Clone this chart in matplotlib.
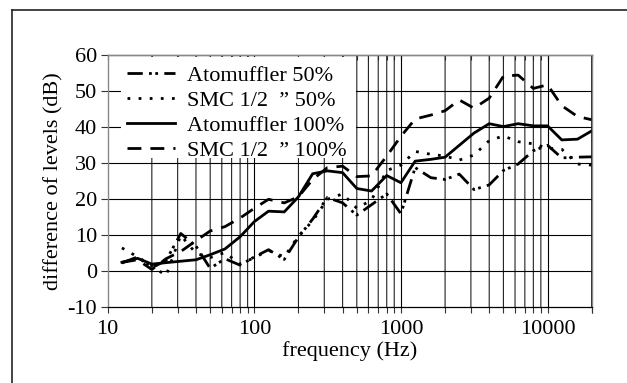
import matplotlib
matplotlib.use("Agg")
import matplotlib.pyplot as plt
from matplotlib.patches import Rectangle
from matplotlib.lines import Line2D
from matplotlib.ticker import FixedLocator, NullFormatter, NullLocator

plt.rcParams['font.family'] = ['Liberation Serif', 'DejaVu Serif']
plt.rcParams['lines.scale_dashes'] = False
plt.rcParams['axes.unicode_minus'] = False

freq = [12.5, 16, 20, 25, 31.5, 40, 50, 63, 80, 100, 125, 160, 200, 250, 315, 400,
        500, 630, 800, 1000, 1250, 1600, 2000, 2500, 3150, 4000, 5000, 6300, 8000,
        10000, 12500, 16000, 20000]

atom_50 = [2.3, 4.0, 1.0, 3.0, 10.5, 7.0, 0.8, 3.5, 1.7, 4.0, 6.0, 3.3, 9.5, 14.5, 20.5,
           19.0, 15.6, 18.5, 21.5, 16.0, 28.8, 26.0, 25.5, 27.0, 22.7, 24.0, 28.0, 29.8,
           33.5, 35.0, 31.5, 31.7, 31.8]
smc_50 = [6.5, 4.0, 1.5, -1.2, 10.0, 5.0, 3.8, 5.2, 2.0, 3.8, 5.8, 4.0, 9.8, 14.0, 20.0,
          21.5, 17.5, 19.8, 28.0, 29.5, 33.3, 32.5, 32.0, 30.9, 32.3, 36.3, 37.6, 36.0,
          35.4, 34.2, 33.9, 29.8, 29.5]
atom_100 = [2.5, 3.6, 2.0, 2.4, 2.8, 3.2, 4.6, 6.2, 9.6, 13.8, 16.7, 16.5, 20.7, 27.1, 27.9,
            27.4, 23.0, 22.3, 26.6, 24.6, 30.6, 31.1, 31.7, 35.0, 38.4, 41.0, 40.2, 41.0,
            40.4, 40.4, 36.5, 36.7, 39.0]
smc_100 = [2.5, 3.2, 0.5, 3.5, 5.5, 8.5, 11.2, 12.4, 14.8, 17.5, 20.0, 19.0, 20.7, 25.5,
           28.8, 29.2, 26.3, 26.5, 32.0, 37.5, 42.3, 43.4, 44.6, 47.6, 45.3, 48.1, 54.2,
           54.5, 50.8, 51.8, 46.0, 43.0, 42.1]

labels = ['Atomuffler 50%', 'SMC 1/2  \u201d 50%', 'Atomuffler 100%', 'SMC 1/2  \u201d 100%']

x_ticks = [10, 100, 1000, 10000]
x_ticklabels = ['10', '100', '1000', '10000']
y_ticks = [-10, 0, 10, 20, 30, 40, 50, 60]
grid_x = [m * d for d in (10, 100, 1000, 10000) for m in range(2, 10)] + [20000]
grid_x = [g for g in grid_x if g <= 20000]

W, H = 627, 383
fig = plt.figure(figsize=(W / 100, H / 100), dpi=100)
L, R, T, B = 107.7, 591.7, 55.3, 307.3
ax = fig.add_axes([L / W, 1 - B / H, (R - L) / W, (B - T) / H])
ax.set_xscale('log')
ax.set_xlim(10, 20000)
ax.set_ylim(-10, 60)

# grid
for g in grid_x:
    ax.axvline(g, color='#222222', lw=0.8, zorder=1, snap=False)
ax.axvline(100, color='black', lw=0.8, zorder=1)
ax.axvline(1000, color='black', lw=0.8, zorder=1)
ax.axvline(10000, color='black', lw=0.8, zorder=1)
for yv in y_ticks[1:-1]:
    ax.axhline(yv, color='black', lw=0.8, zorder=1)

# legend background
def px2ax(px, py):
    return (px - L) / (R - L), (B - py) / (B - T)
x0, y0 = px2ax(121.5, 158)
x1, y1 = px2ax(356, 56.5)
ax.add_patch(Rectangle((x0, y0), x1 - x0, y1 - y0, transform=ax.transAxes,
                       facecolor='white', edgecolor='none', zorder=1.5))

lw = 2.0
ax.plot(freq, atom_50, color='black', lw=lw, dashes=(11, 4.5, 2, 2.5, 2, 4.5),
        dash_capstyle='butt', label=labels[0], zorder=2)
ax.plot(freq, smc_50, color='black', lw=lw, dashes=(2, 6), dash_capstyle='butt',
        label=labels[1], zorder=2)
ax.plot(freq, atom_100, color='black', lw=lw, label=labels[2], zorder=2)
ax.plot(freq, smc_100, color='black', lw=lw, dashes=(10, 6.5), dash_capstyle='butt',
        label=labels[3], zorder=2)

fs = 16
ax.xaxis.set_major_locator(FixedLocator(x_ticks))
ax.xaxis.set_minor_locator(FixedLocator(grid_x))
ax.xaxis.set_minor_formatter(NullFormatter())
ax.set_xticklabels(x_ticklabels)
ax.set_yticks(y_ticks)
ax.tick_params(axis='x', which='both', direction='out', length=4.5, width=0.8,
               color='#333333', labelsize=fs, pad=5, top=False)
ax.tick_params(axis='y', which='both', direction='out', length=4.8, width=0.8,
               color='#333333', labelsize=fs, pad=3, right=False)
ax.yaxis.set_minor_locator(NullLocator())

sec = ax.secondary_xaxis('top')
sec.xaxis.set_major_locator(FixedLocator(x_ticks))
sec.xaxis.set_minor_locator(FixedLocator(grid_x))
sec.xaxis.set_major_formatter(NullFormatter())
sec.xaxis.set_minor_formatter(NullFormatter())
sec.tick_params(which='both', direction='in', length=3.5, width=0.8, color='#333333')
sec.spines['top'].set_color('#888888')
sec.spines['top'].set_linewidth(1.0)

for s in ('top', 'right', 'left'):
    ax.spines[s].set_color('#888888')
    ax.spines[s].set_linewidth(1.0)
ax.spines['bottom'].set_color('black')
ax.spines['bottom'].set_linewidth(0.9)

ax.set_xlabel('frequency (Hz)', fontsize=fs, labelpad=1)
ax.set_ylabel('difference of levels (dB)', fontsize=fs, labelpad=3)

lx, ly = px2ax(127, 65)
leg = ax.legend(loc='upper left', bbox_to_anchor=(lx, ly), frameon=False,
                fontsize=fs, handlelength=2.15, handletextpad=0.55,
                labelspacing=0.2, borderpad=0, borderaxespad=0)
leg.set_zorder(3)

# outer frame (right and bottom edges lie outside the image)
fig.add_artist(Line2D([12 / W, 1.0], [1 - 10 / H, 1 - 10 / H], color='#222222', lw=1.2,
                      transform=fig.transFigure))
fig.add_artist(Line2D([12 / W, 12 / W], [1 - 10 / H, 0.0], color='#222222', lw=1.2,
                      transform=fig.transFigure))

fig.savefig('out.png', dpi=100)
